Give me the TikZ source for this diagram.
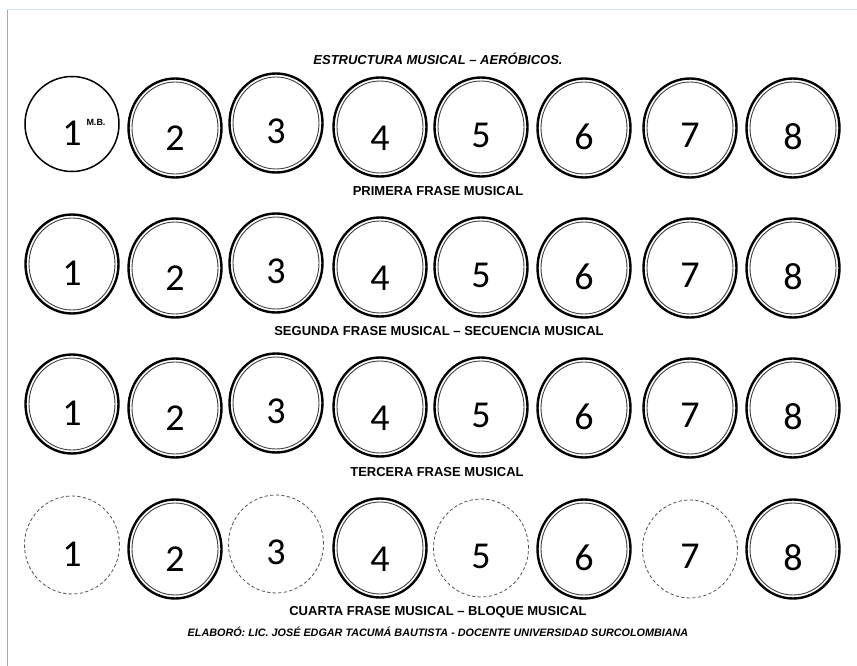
\documentclass[tikz,border=0pt]{standalone}
\usepackage{fontspec}
\setmainfont{Liberation Sans}
\newfontfamily\digitfont{Carlito}
\usetikzlibrary{shapes.geometric}
\definecolor{frameblue}{HTML}{CFE6F7}
\definecolor{framegray}{HTML}{A8A8A8}
\definecolor{dashgray}{HTML}{505050}
\begin{document}
\begin{tikzpicture}[x=1pt,y=-1pt,
  ringouter/.style={ellipse, draw=black, line width=2.4pt, minimum width=93pt, minimum height=99pt, inner sep=0pt},
  ringinner/.style={ellipse, draw=black!75, line width=0.9pt, minimum width=86pt, minimum height=92pt, inner sep=0pt},
  ringsingle/.style={ellipse, draw=black, line width=1.5pt, minimum width=94pt, minimum height=95pt, inner sep=0pt},
  ringdash/.style={ellipse, draw=dashgray, line width=0.8pt, dash pattern=on 3.2pt off 2.4pt, minimum width=95pt, minimum height=98pt, inner sep=0pt},
  digit/.style={inner sep=0pt, font=\digitfont\fontsize{38}{40}\selectfont},
  lab/.style={inner sep=0pt, font=\bfseries\fontsize{13}{15}\selectfont},
  labit/.style={inner sep=0pt, font=\bfseries\itshape\fontsize{13}{15}\selectfont},
  credit/.style={inner sep=0pt, font=\bfseries\itshape\fontsize{10.8}{12}\selectfont},
  sup/.style={inner sep=0pt, font=\bfseries\fontsize{9}{10}\selectfont}
]
\useasboundingbox (0,0) rectangle (857,666);
% frame
\coordinate (ftl) at (7,10);
\coordinate (ftr) at (857,10);
\coordinate (fbl) at (7,666);
\draw[frameblue, line width=1pt] (ftl) -- (ftr);
\draw[framegray, line width=1pt] (ftl) -- (fbl);

% circles
\foreach \r/\base in {1/128, 2/268, 3/408, 4/549} {
  \foreach \c/\cx/\dy/\ty in {1/72/-4/5, 2/175/0/10, 3/276/-5/3, 4/380/-1/10, 5/481/-1/7, 6/584/0/9, 7/690/0/7, 8/793/0/9} {
    \pgfmathsetmacro{\cy}{\base+\dy}
    \pgfmathsetmacro{\dyy}{\base+\ty}
    \ifnum\r=1 \ifnum\c=1
      \node[ringsingle] (c-\r-\c) at (\cx,\cy) {};
    \else
      \node[ringouter] (c-\r-\c) at (\cx,\cy) {};
      \node[ringinner] (i-\r-\c) at (\cx,\cy) {};
    \fi
    \else
      \ifnum\r=4
        \ifodd\c
          \node[ringdash] (c-\r-\c) at (\cx,\cy) {};
        \else
          \node[ringouter] (c-\r-\c) at (\cx,\cy) {};
          \node[ringinner] (i-\r-\c) at (\cx,\cy) {};
        \fi
      \else
        \node[ringouter] (c-\r-\c) at (\cx,\cy) {};
        \node[ringinner] (i-\r-\c) at (\cx,\cy) {};
      \fi
    \fi
    \node[digit] (d-\r-\c) at (\cx,\dyy) {\c};
  }
}
\node[sup] (mb) at (96,122) {M.B.};

% labels
\node[labit] (title) at (438,59) {ESTRUCTURA MUSICAL – AERÓBICOS.};
\node[lab] (l1) at (438,191) {PRIMERA FRASE MUSICAL};
\node[lab] (l2) at (439,331) {SEGUNDA FRASE MUSICAL – SECUENCIA MUSICAL};
\node[lab] (l3) at (437,472) {TERCERA FRASE MUSICAL};
\node[lab] (l4) at (438,612) {CUARTA FRASE MUSICAL – BLOQUE MUSICAL};
\node[credit] (cr) at (438,632) {ELABORÓ: LIC. JOSÉ EDGAR TACUMÁ BAUTISTA - DOCENTE UNIVERSIDAD SURCOLOMBIANA};
\end{tikzpicture}
\end{document}
